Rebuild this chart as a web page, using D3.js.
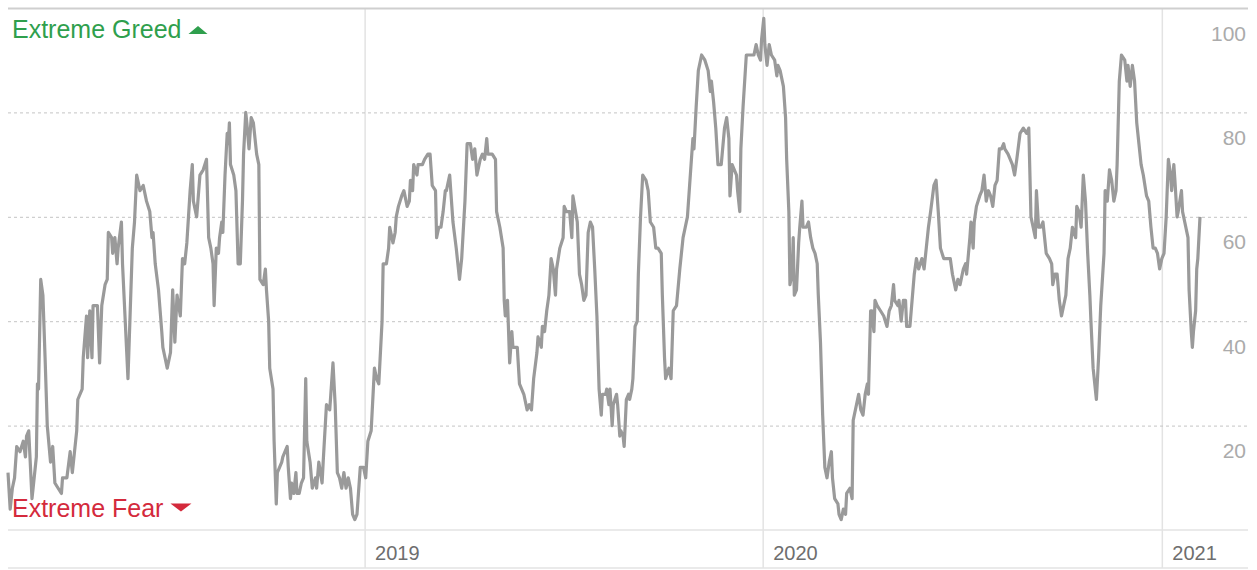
<!DOCTYPE html>
<html lang="en">
<head>
    <meta charset="UTF-8">
    <title>Fear &amp; Greed Over Time</title>
    <script src="https://d3js.org/d3.v7.min.js"></script>
    <style>
        body { margin: 0; background: #fff; }
        svg { display: block; font-family: "Liberation Sans", Arial, sans-serif; }
    </style>
</head>
<body>
    <div id="chart"></div>

    <script>
        // Readings taken off the chart: days after startDate, and index value on that day
        var startDate = "2018-02-08";
        var dayOffsets = [
            0, 2, 4, 6, 8, 11, 14, 16, 17, 19, 22, 23, 26, 27, 28, 30, 32, 34, 36, 39,
            41, 43, 46, 49, 50, 54, 57, 59, 61, 63, 64, 68, 69, 72, 73, 75, 77, 78, 82, 84,
            86, 89, 91, 92, 95, 96, 98, 100, 101, 104, 105, 110, 114, 116, 118, 121, 124, 127, 130, 132,
            133, 135, 138, 141, 142, 144, 146, 149, 151, 153, 155, 158, 160, 162, 164, 167, 169, 170, 173, 176,
            179, 182, 184, 186, 188, 189, 191, 193, 194, 196, 197, 199, 201, 202, 203, 204, 207, 209, 211, 213,
            215, 216, 218, 219, 221, 223, 225, 228, 230, 231, 234, 236, 237, 239, 240, 243, 244, 246, 247, 249,
            251, 252, 256, 257, 259, 260, 262, 264, 265, 267, 269, 271, 273, 274, 277, 279, 282, 283, 285, 288,
            289, 292, 295, 296, 298, 300, 302, 304, 306, 308, 310, 312, 314, 316, 318, 320, 321, 323, 326, 328,
            330, 333, 336, 338, 340, 343, 344, 347, 349, 350, 353, 355, 356, 358, 361, 363, 366, 368, 369, 371,
            372, 375, 376, 378, 380, 382, 385, 387, 389, 392, 393, 395, 397, 399, 401, 402, 405, 407, 408, 411,
            414, 416, 419, 421, 424, 426, 428, 430, 433, 435, 437, 439, 440, 444, 447, 448, 451, 454, 455, 456,
            458, 460, 462, 463, 467, 469, 471, 473, 476, 478, 480, 482, 485, 486, 489, 490, 492, 494, 496, 498,
            500, 502, 503, 506, 509, 510, 512, 515, 517, 518, 522, 524, 526, 528, 530, 532, 534, 536, 538, 540,
            542, 544, 545, 548, 549, 551, 552, 554, 555, 558, 559, 561, 562, 564, 565, 567, 569, 570, 572, 573,
            575, 577, 578, 580, 582, 585, 587, 589, 592, 594, 596, 599, 600, 602, 603, 606, 608, 610, 613, 616,
            619, 621, 623, 625, 628, 629, 631, 633, 636, 639, 642, 644, 645, 647, 649, 651, 654, 657, 659, 661,
            662, 664, 666, 668, 669, 671, 672, 674, 677, 680, 682, 684, 686, 688, 690, 691, 693, 694, 696, 698,
            700, 703, 705, 706, 708, 711, 713, 714, 716, 717, 719, 720, 721, 723, 725, 726, 728, 729, 732, 734,
            736, 738, 740, 742, 743, 745, 747, 749, 751, 753, 755, 756, 758, 761, 762, 764, 766, 768, 769, 772,
            774, 775, 778, 780, 782, 784, 786, 788, 789, 791, 792, 794, 795, 797, 800, 803, 806, 808, 810, 812,
            813, 816, 817, 819, 821, 823, 824, 827, 829, 831, 833, 835, 838, 840, 842, 844, 846, 849, 851, 853,
            855, 858, 861, 864, 866, 869, 871, 873, 876, 878, 879, 882, 883, 885, 886, 888, 891, 893, 895, 897,
            899, 901, 903, 905, 907, 909, 911, 913, 914, 917, 921, 923, 925, 928, 931, 934, 936, 938, 940, 942,
            943, 945, 947, 949, 952, 955, 957, 958, 960, 962, 964, 966, 968, 970, 972, 974, 976, 979, 980, 982,
            984, 986, 988, 990, 992, 993, 995, 998, 1000, 1002, 1005, 1006, 1008, 1010, 1012, 1014, 1016, 1017, 1019, 1021,
            1024, 1026, 1027, 1029, 1031, 1033, 1035, 1037, 1039, 1041, 1044, 1046, 1048, 1050, 1052, 1054, 1056, 1058, 1060, 1062,
            1064, 1066, 1067, 1069, 1070, 1072, 1073, 1076, 1077, 1079, 1082, 1083, 1085, 1086, 1087, 1089, 1090, 1091, 1093
        ];
        var fearGreed = [
            11, 4, 8, 10, 16, 15, 17, 14, 18, 19, 6, 8, 14, 28, 27, 48, 45, 33, 20, 13,
            16, 9, 8, 7, 10, 10, 15, 11, 15, 19, 25, 27, 33, 41, 33, 42, 33, 43, 43, 32,
            43, 47, 48, 57, 56, 53, 56, 51, 54, 59, 51, 29, 54, 59, 68, 65, 66, 63, 61, 56,
            57, 51, 46, 38, 35, 33, 31, 34, 46, 36, 45, 41, 52, 51, 55, 65, 70, 63, 60, 68,
            69, 71, 56, 54, 51, 43, 54, 53, 56, 59, 57, 68, 76, 74, 78, 70, 68, 65, 51, 51,
            63, 72, 80, 78, 73, 79, 78, 72, 70, 48, 47, 50, 46, 40, 31, 27, 17, 5, 11, 12,
            13, 14, 16, 12, 6, 9, 7, 11, 7, 7, 9, 10, 29, 17, 13, 8, 10, 8, 13, 9,
            13, 24, 23, 26, 32, 24, 11, 10, 8, 11, 8, 10, 8, 3, 2, 3, 6, 12, 12, 10,
            17, 19, 31, 29, 28, 40, 51, 51, 54, 58, 55, 57, 60, 62, 64, 65, 62, 63, 67, 65,
            70, 68, 70, 70, 70, 71, 72, 72, 66, 65, 56, 58, 58, 61, 65, 65, 68, 62, 59, 54,
            48, 52, 63, 74, 74, 71, 73, 68, 71, 72, 71, 75, 72, 72, 71, 61, 58, 54, 44, 41,
            44, 32, 38, 35, 35, 28, 27, 26, 23, 24, 23, 29, 34, 37, 35, 39, 38, 42, 45, 52,
            50, 45, 50, 54, 56, 62, 61, 61, 56, 64, 59, 49, 47, 44, 45, 57, 59, 58, 50, 41,
            27, 22, 26, 26, 27, 24, 27, 20, 24, 26, 24, 18, 19, 18, 16, 25, 26, 25, 27, 29,
            39, 40, 49, 60, 68, 67, 65, 59, 58, 54, 54, 53, 45, 33, 29, 31, 29, 42, 43, 50,
            56, 58, 60, 66, 75, 73, 81, 88, 91, 90, 88, 84, 86, 82, 77, 70, 70, 77, 79, 75,
            64, 70, 69, 68, 65, 61, 73, 81, 91, 91, 91, 91, 93, 91, 90, 94, 98, 93, 89, 93,
            91, 90, 87, 89, 88, 85, 79, 71, 61, 47, 49, 56, 45, 46, 55, 58, 63, 58, 58, 59,
            56, 54, 53, 51, 45, 36, 22, 12, 10, 13, 15, 10, 6, 5, 3, 2, 4, 3, 7, 8,
            6, 21, 24, 26, 23, 22, 26, 28, 26, 42, 42, 38, 44, 43, 42, 41, 39, 42, 43, 47,
            44, 43, 44, 40, 44, 44, 39, 39, 44, 49, 52, 50, 52, 50, 54, 58, 61, 66, 67, 61,
            54, 52, 52, 52, 49, 46, 48, 47, 50, 51, 49, 56, 59, 54, 59, 62, 64, 65, 68, 63,
            65, 64, 62, 66, 67, 73, 73, 74, 73, 72, 70, 68, 71, 76, 77, 76, 77, 60, 58, 56,
            65, 58, 58, 59, 53, 52, 51, 47, 49, 49, 44, 41, 43, 45, 52, 54, 58, 56, 62, 61,
            58, 68, 63, 53, 45, 40, 31, 25, 33, 43, 53, 65, 63, 69, 67, 63, 65, 70, 86, 91,
            90, 86, 89, 85, 89, 86, 78, 74, 70, 68, 64, 63, 58, 54, 54, 53, 50, 52, 53, 60,
            71, 68, 65, 70, 67, 60, 61, 65, 61, 59, 56, 46, 38, 35, 38, 42, 50, 52, 60
        ];
        var yTicks = [20, 40, 60, 80, 100];
        var yearTicks = ["2019", "2020", "2021"];

        var width = 1257, height = 570;
        var plotLeft = 8, plotRight = 1248, lineEnd = 1200;
        var plotTop = 8, plotBottom = 530, axisBottom = 568;

        var parseDate = d3.timeParse("%Y-%m-%d");
        var start = parseDate(startDate);

        var data = dayOffsets.map(function(d, i) {
            return { date: d3.timeDay.offset(start, d), value: fearGreed[i] };
        });

        var svg = d3.select("#chart")
            .append("svg")
            .attr("width", width)
            .attr("height", height);

        var x = d3.scaleTime()
            .domain(d3.extent(data, function(d) { return d.date; }))
            .range([plotLeft, lineEnd]);
        var y = d3.scaleLinear().domain([0, 100]).range([plotBottom, plotTop]);

        // vertical year lines + year labels
        var xAxis = svg.append("g")
            .attr("transform", "translate(0," + plotTop + ")")
            .call(d3.axisBottom(x)
                .tickValues(yearTicks.map(function(t) { return parseDate(t + "-01-01"); }))
                .tickSize(axisBottom - plotTop)
                .tickFormat(d3.timeFormat("%Y")));
        xAxis.select(".domain").remove();
        xAxis.selectAll(".tick line")
            .attr("stroke", "#e3e3e3")
            .attr("stroke-width", 1.5);
        xAxis.selectAll(".tick text")
            .attr("y", 559.5 - plotTop)
            .attr("dy", 0)
            .attr("x", 10)
            .style("text-anchor", "start")
            .style("font-size", "20px")
            .attr("fill", "#6e6e6e");

        // horizontal gridlines + value labels on the right
        var yAxis = svg.append("g")
            .attr("transform", "translate(" + plotLeft + ",0)")
            .call(d3.axisRight(y).tickValues(yTicks).tickSize(plotRight - plotLeft));
        yAxis.select(".domain").remove();
        yAxis.selectAll(".tick line")
            .attr("stroke", function(d) { return d === 100 ? "#cfcfcf" : "#c4c4c4"; })
            .attr("stroke-width", function(d) { return d === 100 ? 2 : 1; })
            .attr("stroke-dasharray", function(d) { return d === 100 ? null : "3,3"; });
        yAxis.selectAll(".tick text")
            .attr("x", 1246 - plotLeft)
            .attr("dy", 32)
            .style("text-anchor", "end")
            .style("font-size", "21px")
            .attr("fill", "#ababab");

        // baseline and bottom border
        svg.append("line")
            .attr("x1", plotLeft).attr("x2", plotRight)
            .attr("y1", y(0)).attr("y2", y(0))
            .attr("stroke", "#e3e3e3").attr("stroke-width", 1.5);
        svg.append("line")
            .attr("x1", plotLeft).attr("x2", plotRight)
            .attr("y1", axisBottom).attr("y2", axisBottom)
            .attr("stroke", "#e3e3e3").attr("stroke-width", 1.5);

        // the index line
        var line = d3.line()
            .x(function(d) { return x(d.date); })
            .y(function(d) { return y(d.value); });

        svg.append("path")
            .datum(data)
            .attr("fill", "none")
            .attr("stroke", "#9a9a9a")
            .attr("stroke-width", 3.2)
            .attr("stroke-linejoin", "round")
            .attr("d", line);

        // extreme labels with arrows
        function addExtremeLabel(text, color, baseline, up) {
            var t = svg.append("text")
                .attr("x", 12)
                .attr("y", baseline)
                .attr("fill", color)
                .style("font-size", "25px")
                .text(text);
            var w = t.node().getComputedTextLength();
            var x0 = 12 + w + 7;
            var p = d3.path();
            if (up) {
                p.moveTo(x0, baseline - 4); p.lineTo(x0 + 19, baseline - 4); p.lineTo(x0 + 9.5, baseline - 12);
            } else {
                p.moveTo(x0, baseline - 13); p.lineTo(x0 + 21, baseline - 13); p.lineTo(x0 + 10.5, baseline - 5);
            }
            p.closePath();
            svg.append("path").attr("d", p.toString()).attr("fill", color);
        }
        addExtremeLabel("Extreme Greed", "#2f9f4d", 38, true);
        addExtremeLabel("Extreme Fear", "#d42a3c", 516.5, false);
    </script>
</body>
</html>
